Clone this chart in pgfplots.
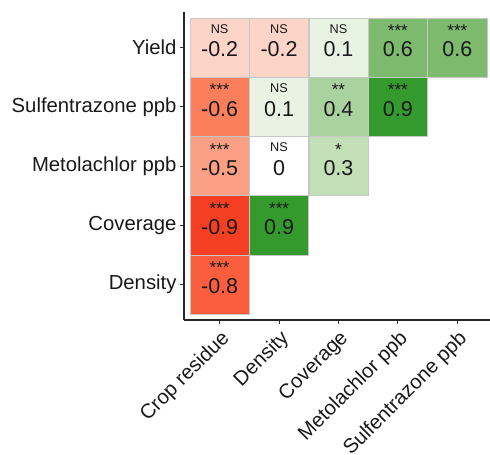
\documentclass[border=0pt]{standalone}
\usepackage{pgfplots}
\usepackage{pgfplotstable}
\pgfplotsset{compat=1.18}
\usepackage{fontspec}
\setmainfont{Liberation Sans}
\pgfplotstableread{
x y v
1 5 -0.2
2 5 -0.2
3 5 0.1
4 5 0.6
5 5 0.6
1 4 -0.6
2 4 0.1
3 4 0.4
4 4 0.9
1 3 -0.5
2 3 0
3 3 0.3
1 2 -0.9
2 2 0.9
1 1 -0.8
}\cor
\pgfplotstableread{
x y sig
1 5 NS
2 5 NS
3 5 NS
2 4 NS
2 3 NS
}\ns
\pgfplotstableread{
x y sig
4 5 ***
5 5 ***
1 4 ***
3 4 **
4 4 ***
1 3 ***
3 3 *
1 2 ***
2 2 ***
1 1 ***
}\stars
\begin{document}
\begin{tikzpicture}
\begin{axis}[
  name=ax,
  scale only axis,
  width=306pt, height=308pt,
  xmin=0.4, xmax=5.55, ymin=0.4, ymax=5.6,
  axis lines*=left,
  axis line style={black!85, line width=1.1pt},
  xtick={1,2,3,4,5},
  xticklabels={Crop residue, Density, Coverage, Metolachlor ppb, Sulfentrazone ppb},
  ytick={1,2,3,4,5},
  yticklabels={Density, Coverage, Metolachlor ppb, Sulfentrazone ppb, Yield},
  tick align=outside,
  major tick length=4pt,
  tick style={black!80, line width=1pt},
  xticklabel style={rotate=45, anchor=north east, font=\fontsize{20.3}{24}\selectfont, text=black!90},
  yticklabel style={font=\fontsize{20.3}{24}\selectfont, text=black!90},
  colormap={corr}{
    rgb255(0pt)=(255,30,10)
    rgb255(1pt)=(244,63,34)
    rgb255(2pt)=(250,94,62)
    rgb255(4pt)=(252,127,92)
    rgb255(5pt)=(252,160,133)
    rgb255(8pt)=(253,213,200)
    rgb255(10pt)=(255,255,255)
    rgb255(11pt)=(233,243,228)
    rgb255(13pt)=(194,223,184)
    rgb255(14pt)=(169,210,158)
    rgb255(16pt)=(125,186,110)
    rgb255(19pt)=(52,154,45)
    rgb255(20pt)=(30,140,30)
  },
  clip=false,
]
\addplot[scatter, only marks, mark=square*, mark size=29.6pt,
  mark options={line width=0.5pt},
  point meta=explicit, point meta min=-1, point meta max=1,
  scatter/use mapped color={draw=black!22, fill=mapped color}]
  table[x=x, y=y, meta=v] {\cor};
\addplot[draw=none, mark=none, nodes near coords, point meta=explicit symbolic,
  nodes near coords style={anchor=base, yshift=-9.3pt, font=\fontsize{21.5}{24}\selectfont, text=black!90, inner sep=0pt}]
  table[x=x, y=y, meta=v] {\cor};
\addplot[draw=none, mark=none, nodes near coords, point meta=explicit symbolic,
  nodes near coords style={anchor=base, yshift=14.5pt, font=\fontsize{12.7}{14}\selectfont, text=black!90, inner sep=0pt}]
  table[x=x, y=y, meta=sig] {\ns};
\addplot[draw=none, mark=none, nodes near coords, point meta=explicit symbolic,
  nodes near coords style={anchor=base, yshift=10.8pt, font=\fontsize{17}{18}\selectfont, text=black!90, inner sep=0pt}]
  table[x=x, y=y, meta=sig] {\stars};
\end{axis}
\pgfresetboundingbox
\path ([xshift=-184pt,yshift=-135pt]ax.south west) rectangle ([yshift=12pt]ax.north east);
\end{tikzpicture}
\end{document}
